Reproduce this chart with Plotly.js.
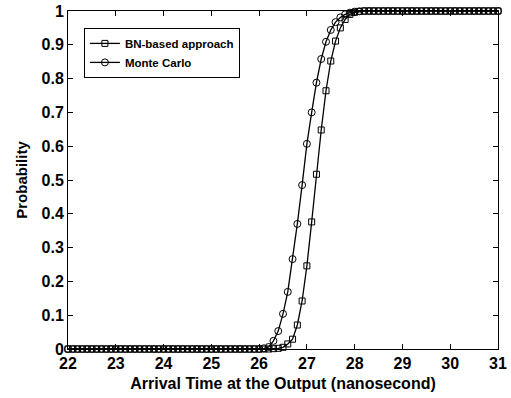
<!DOCTYPE html>
<html>
<head>
<meta charset="utf-8">
<script src="https://cdn.plot.ly/plotly-3.0.1.min.js"></script>
<style>html,body{margin:0;padding:0;background:#fff;}#chart{width:511px;height:398px;}</style>
</head>
<body>
<div id="chart"></div>
<script>
var arrivalTime = [
  22.0,22.1,22.2,22.3,22.4,22.5,22.6,22.7,22.8,22.9,
  23.0,23.1,23.2,23.3,23.4,23.5,23.6,23.7,23.8,23.9,
  24.0,24.1,24.2,24.3,24.4,24.5,24.6,24.7,24.8,24.9,
  25.0,25.1,25.2,25.3,25.4,25.5,25.6,25.7,25.8,25.9,
  26.0,26.1,26.2,26.3,26.4,26.5,26.6,26.7,26.8,26.9,
  27.0,27.1,27.2,27.3,27.4,27.5,27.6,27.7,27.8,27.9,
  28.0,28.1,28.2,28.3,28.4,28.5,28.6,28.7,28.8,28.9,
  29.0,29.1,29.2,29.3,29.4,29.5,29.6,29.7,29.8,29.9,
  30.0,30.1,30.2,30.3,30.4,30.5,30.6,30.7,30.8,30.9,
  31.0
];
var bnProb = [
  0,0,0,0,0,0,0,0,0,0,
  0,0,0,0,0,0,0,0,0,0,
  0,0,0,0,0,0,0,0,0,0,
  0,0,0,0,0,0,0,0,0,0,
  0,0,0,0.001,0.002,0.005,0.015,0.029,0.071,0.142,
  0.246,0.376,0.517,0.648,0.764,0.852,0.911,0.950,0.975,0.990,
  0.996,0.999,1,1,1,1,1,1,1,1,
  1,1,1,1,1,1,1,1,1,1,
  1,1,1,1,1,1,1,1,1,1,
  1
];
var mcProb = [
  0,0,0,0,0,0,0,0,0,0,
  0,0,0,0,0,0,0,0,0,0,
  0,0,0,0,0,0,0,0,0,0,
  0,0,0,0,0,0,0,0,0,0,
  0,0.002,0.006,0.024,0.053,0.104,0.169,0.266,0.370,0.485,
  0.607,0.700,0.788,0.858,0.909,0.944,0.967,0.981,0.990,0.995,
  0.998,0.999,1,1,1,1,1,1,1,1,
  1,1,1,1,1,1,1,1,1,1,
  1,1,1,1,1,1,1,1,1,1,
  1
];
var xTicks = [22,23,24,25,26,27,28,29,30,31];
var yTicks = [0,0.1,0.2,0.3,0.4,0.5,0.6,0.7,0.8,0.9,1];
var yTickText = ['0','0.1','0.2','0.3','0.4','0.5','0.6','0.7','0.8','0.9','1'];
var seriesNames = ['BN-based approach','Monte Carlo'];

var font = 'Liberation Sans, Arial, Helvetica, sans-serif';
var traces = [
  {x: arrivalTime, y: bnProb, name: seriesNames[0], type: 'scatter', mode: 'lines+markers',
   cliponaxis: false,
   line: {color: '#000', width: 1.3},
   marker: {symbol: 'square-open', size: 6, color: '#000', line: {width: 1, color: '#000'}}},
  {x: arrivalTime, y: mcProb, name: seriesNames[1], type: 'scatter', mode: 'lines+markers',
   cliponaxis: false,
   line: {color: '#000', width: 1.3},
   marker: {symbol: 'circle-open', size: 7, color: '#000', line: {width: 1, color: '#000'}}}
];
var layout = {
  width: 511, height: 398,
  margin: {l: 68, r: 13, t: 11, b: 49},
  paper_bgcolor: '#fff', plot_bgcolor: '#fff',
  font: {family: font, color: '#000'},
  showlegend: true,
  legend: {x: 0.037, y: 0.95, xanchor: 'left', yanchor: 'top',
    bordercolor: '#000', borderwidth: 1, bgcolor: '#fff',
    font: {family: font, size: 11.5, color: '#000', weight: 'bold'},
    tracegroupgap: 0, itemwidth: 30},
  xaxis: {range: [22, 31], tickvals: xTicks, ticktext: xTicks.map(String),
    showgrid: false, zeroline: false, showline: true, linecolor: '#000', linewidth: 1,
    mirror: 'ticks', ticks: 'inside', ticklen: 5, tickcolor: '#000',
    tickfont: {family: font, size: 16, color: '#000', weight: 'bold'},
    title: {text: 'Arrival Time at the Output (nanosecond)', standoff: 6,
      font: {family: font, size: 16, color: '#000', weight: 'bold'}}},
  yaxis: {range: [0, 1], tickvals: yTicks, ticktext: yTickText,
    showgrid: false, zeroline: false, showline: true, linecolor: '#000', linewidth: 1,
    mirror: 'ticks', ticks: 'inside', ticklen: 5, tickcolor: '#000',
    tickfont: {family: font, size: 16, color: '#000', weight: 'bold'},
    title: {text: 'Probability', standoff: 10,
      font: {family: font, size: 15, color: '#000', weight: 'bold'}}}
};
Plotly.newPlot('chart', traces, layout, {displayModeBar: false, staticPlot: true});
</script>
</body>
</html>
